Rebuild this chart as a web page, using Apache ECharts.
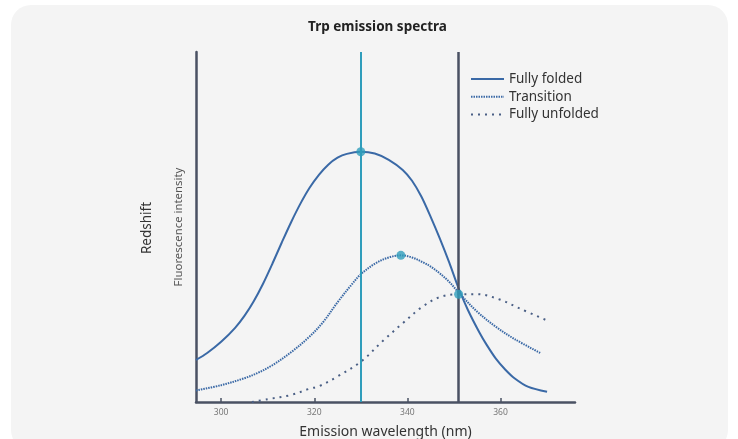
<!DOCTYPE html>
<html>
<head>
<meta charset="utf-8">
<script src="https://cdn.jsdelivr.net/npm/echarts@6/dist/echarts.min.js"></script>
<style>
html,body{margin:0;padding:0;background:#ffffff;}
#chart{width:738px;height:439px;}
</style>
</head>
<body>
<div id="chart"></div>
<script>
// Data
var foldedX = [294.6, 297, 300, 303, 305, 307, 309, 311, 313, 315, 317, 319, 321, 323, 325, 327, 330, 333, 336, 339, 341, 343, 345, 347, 349, 351, 353, 355.5, 357, 359, 361, 363, 366, 370];
var foldedY = [12, 14, 17.2, 21.2, 24.6, 28.8, 33.8, 39.5, 45.5, 51.3, 56.6, 61.2, 64.9, 67.8, 69.8, 70.9, 71.5, 71, 69.2, 66.3, 63.2, 58.7, 52.9, 46.6, 39.8, 32.5, 26.3, 19.8, 16.4, 12.4, 9.3, 6.8, 4.3, 2.9];

var transX = [294.6, 300, 305, 308, 311, 315, 319, 322, 325, 328, 330, 333, 336, 338.6, 341, 343.5, 345, 347, 349, 351, 355, 359, 363, 368.7];
var transY = [3.3, 4.8, 6.8, 8.4, 10.5, 14.2, 18.7, 23, 28.5, 33.5, 36.5, 39.5, 41.3, 41.9, 41.3, 39.8, 38.7, 36.7, 34.3, 31.3, 25.8, 21.5, 18, 13.9];

var unfoldX = [306.6, 310, 315, 319, 321, 325, 330, 335, 339, 343, 347, 351, 355, 359.8, 364, 369.8];
var unfoldY = [0, 0.8, 2.0, 3.8, 4.5, 7.3, 11.5, 17.8, 22.5, 27, 30, 30.8, 30.8, 29.3, 26.8, 23.4];

var markerX = [330, 338.6, 351];
var markerY = [71.5, 41.9, 30.8];

var refLines = [330, 351];
var tickValues = [300, 320, 340, 360];

var seriesNames = ['Fully folded', 'Transition', 'Fully unfolded'];

function pairs(xs, ys) { return xs.map(function (x, i) { return [x, ys[i]]; }); }

var blue = '#3a69a6';
var teal = '#2f9dbb';
var dark = '#4a5163';
var font = '"Noto Sans", "Open Sans", sans-serif';

var chart = echarts.init(document.getElementById('chart'), null, {renderer: 'canvas'});
chart.setOption({
  backgroundColor: 'transparent',
  animation: false,
  graphic: [
    {type: 'rect', z: -10, shape: {x: 11, y: 5, width: 717, height: 445, r: 20}, style: {fill: '#f4f4f4'}},
    {type: 'text', x: 377.5, y: 27, style: {text: 'Trp emission spectra', font: 'bold 13.5px ' + font, fill: '#222', align: 'center', verticalAlign: 'middle'}},
    {type: 'text', x: 147, y: 228, rotation: Math.PI / 2, style: {text: 'Redshift', font: '13.5px ' + font, fill: '#333', align: 'center', verticalAlign: 'middle'}}
  ],
  legend: {
    orient: 'vertical', left: 470, top: 72, padding: 0, itemWidth: 33, itemHeight: 14, itemGap: 3.7,
    data: seriesNames,
    itemStyle: {opacity: 0},
    textStyle: {fontFamily: font, fontSize: 13.5, color: '#333'}
  },
  grid: {left: 196, top: 52, width: 379, height: 350, containLabel: false, outerBoundsMode: 'none'},
  xAxis: {
    type: 'value', min: 294.6, max: 376,
    name: 'Emission wavelength (nm)', nameLocation: 'middle', nameGap: 23,
    nameTextStyle: {fontFamily: font, fontSize: 14, color: '#333'},
    axisLine: {show: true, lineStyle: {color: dark, width: 2.5}},
    axisTick: {show: true, inside: true, length: 4, customValues: tickValues, lineStyle: {color: dark, width: 1.5}},
    axisLabel: {customValues: tickValues, fontFamily: font, fontSize: 8.5, color: '#777', margin: 6},
    splitLine: {show: false}
  },
  yAxis: {
    type: 'value', min: 0, max: 100,
    name: 'Fluorescence intensity', nameLocation: 'middle', nameGap: 12, nameRotate: 90,
    nameTextStyle: {fontFamily: font, fontSize: 11.4, color: '#555'},
    axisLine: {show: true, lineStyle: {color: dark, width: 2.5}},
    axisTick: {show: false}, axisLabel: {show: false}, splitLine: {show: false}
  },
  series: [
    {
      name: seriesNames[0], type: 'line', smooth: 0.3, symbol: 'none', z: 4,
      data: pairs(foldedX, foldedY),
      lineStyle: {color: blue, width: 2}, itemStyle: {color: blue},
      markLine: {
        silent: true, symbol: 'none', label: {show: false},
        data: [
          {xAxis: refLines[0], lineStyle: {color: teal, width: 2, type: 'solid'}},
          {xAxis: refLines[1], lineStyle: {color: dark, width: 2.5, type: 'solid'}}
        ]
      }
    },
    {
      name: seriesNames[1], type: 'line', smooth: 0.35, symbol: 'none', z: 3,
      data: pairs(transX, transY),
      lineStyle: {color: blue, width: 2, type: [1.5, 1]}, itemStyle: {color: blue}
    },
    {
      name: seriesNames[2], type: 'line', smooth: 0.35, symbol: 'none', z: 3,
      data: pairs(unfoldX, unfoldY),
      lineStyle: {color: '#4a5f85', width: 2, type: [2, 5]}, itemStyle: {color: '#4a5f85'}
    },
    {
      name: 'markers', type: 'scatter', symbolSize: 9, z: 6,
      data: pairs(markerX, markerY),
      itemStyle: {color: teal}
    }
  ]
});
</script>
</body>
</html>
